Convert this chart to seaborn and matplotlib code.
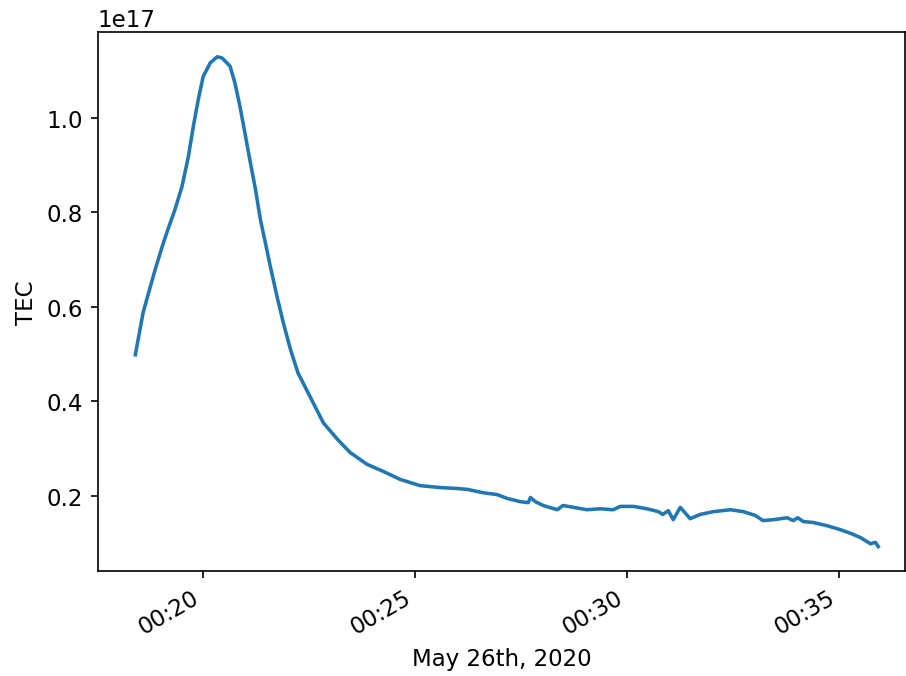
import matplotlib
matplotlib.use("Agg")
import matplotlib.pyplot as plt
import matplotlib.dates as mdates
import seaborn as sns
import pandas as pd

times = ["00:18:24", "00:18:35", "00:18:42", "00:18:52", "00:19:02", "00:19:10",
         "00:19:20", "00:19:30", "00:19:39", "00:19:46", "00:19:53", "00:20:00",
         "00:20:10", "00:20:20", "00:20:27", "00:20:38", "00:20:45", "00:20:52",
         "00:20:59", "00:21:06", "00:21:14", "00:21:21", "00:21:28", "00:21:35",
         "00:21:45", "00:21:53", "00:22:03", "00:22:14", "00:22:31",
         "00:22:50", "00:23:10", "00:23:28", "00:23:52", "00:24:15",
         "00:24:39", "00:25:07", "00:25:35", "00:25:59", "00:26:14", "00:26:36",
         "00:26:56", "00:27:10", "00:27:29", "00:27:40", "00:27:43", "00:27:50",
         "00:28:01", "00:28:21", "00:28:29", "00:28:44", "00:29:03", "00:29:22",
         "00:29:40", "00:29:50", "00:30:09", "00:30:28", "00:30:44", "00:30:50",
         "00:30:58", "00:31:05", "00:31:15", "00:31:29", "00:31:43", "00:32:02",
         "00:32:26", "00:32:44", "00:33:01", "00:33:12", "00:33:27", "00:33:46",
         "00:33:55", "00:34:01", "00:34:09", "00:34:23", "00:34:43", "00:35:01",
         "00:35:16", "00:35:30", "00:35:44", "00:35:51", "00:35:55"]

tec_e17 = [0.498, 0.587, 0.625, 0.678, 0.727, 0.763,
           0.805, 0.854, 0.917, 0.981, 1.038, 1.087,
           1.116, 1.129, 1.126, 1.109, 1.073, 1.024,
           0.968, 0.911, 0.848, 0.784, 0.735, 0.685,
           0.618, 0.568, 0.512, 0.460, 0.410,
           0.354, 0.319, 0.291, 0.266, 0.251,
           0.234, 0.221, 0.217, 0.215, 0.213, 0.206,
           0.202, 0.194, 0.187, 0.185, 0.196, 0.187,
           0.179, 0.170, 0.179, 0.175, 0.170, 0.172,
           0.170, 0.177, 0.177, 0.172, 0.166, 0.160,
           0.168, 0.149, 0.175, 0.151, 0.160, 0.166,
           0.170, 0.166, 0.158, 0.147, 0.149, 0.153,
           0.147, 0.153, 0.145, 0.143, 0.136, 0.128,
           0.120, 0.111, 0.098, 0.101, 0.092]

date = "2020-05-26"
df = pd.DataFrame({
    "time": pd.to_datetime([f"{date} {t}" for t in times]),
    "TEC": [v * 1e17 for v in tec_e17],
})

plt.rcParams["font.size"] = 11
fig, ax = plt.subplots(figsize=(6.04, 4.513), dpi=150)
sns.lineplot(data=df, x="time", y="TEC", ax=ax, sort=False, estimator=None,
             color="#1f77b4", linewidth=1.7)

ax.xaxis.set_major_locator(mdates.MinuteLocator(byminute=range(0, 60, 5)))
ax.xaxis.set_major_formatter(mdates.DateFormatter("%H:%M"))
ax.set_xlim(pd.Timestamp(f"{date} 00:17:31"), pd.Timestamp(f"{date} 00:36:33"))
ax.set_xlabel("May 26th, 2020")
ax.set_ylabel("TEC")
fig.autofmt_xdate()
fig.subplots_adjust(left=0.108, right=0.999, top=0.951, bottom=0.155)
fig.savefig("out.png", dpi=150)
